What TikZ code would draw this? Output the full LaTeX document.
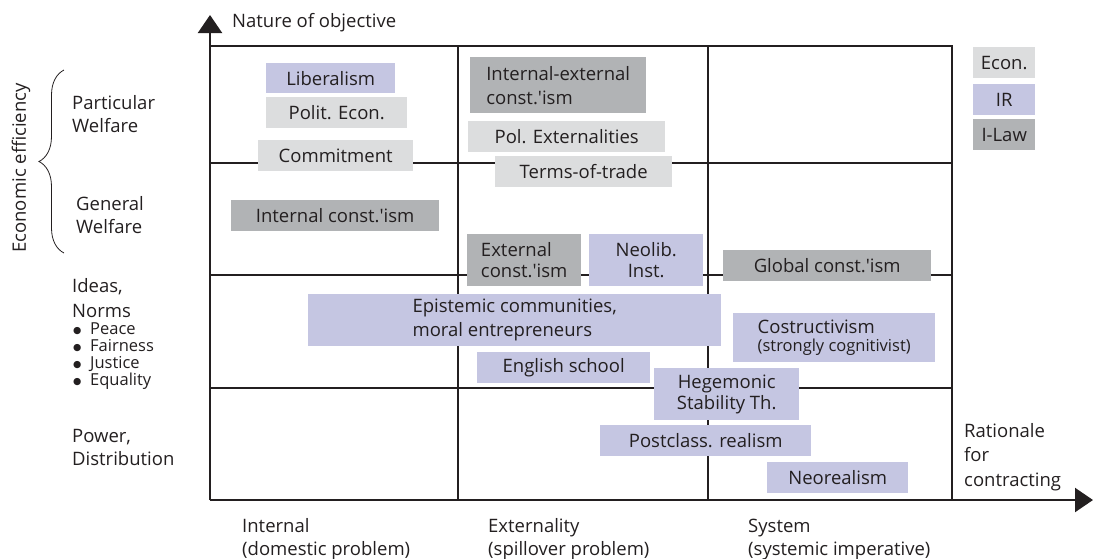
\documentclass[tikz,border=0pt]{standalone}
\usepackage{fontspec}
\setmainfont{Open Sans}
\newfontfamily\djv{DejaVu Sans}
\usetikzlibrary{arrows.meta,decorations.pathreplacing}
\definecolor{econ}{HTML}{DCDDDE}
\definecolor{ir}{HTML}{C5C6E2}
\definecolor{ilaw}{HTML}{B1B3B5}
\definecolor{txt}{HTML}{231F20}
\definecolor{ln}{HTML}{231F20}
\newcommand{\myap}{\textquotesingle}
\newcommand{\mybul}{\makebox[18pt][l]{\hspace{1pt}\raisebox{1pt}{\djv\fontsize{9.5}{9.5}\selectfont ●}}}
\tikzset{
  lbl/.style={inner sep=0pt, anchor=base west, align=left, text=txt},
  box/.style={inner sep=0pt, anchor=north west, text=txt, align=center},
  boxl/.style={box, align=left},
  econbox/.style={box, fill=econ},
  irbox/.style={box, fill=ir},
  ilawbox/.style={box, fill=ilaw},
  grid/.style={line width=1.3pt, draw=ln},
  frame/.style={line width=2.2pt, draw=ln},
  axis/.style={line width=2.2pt, draw=ln, -{Triangle[length=18pt,width=24pt]}},
}
\begin{document}
\begin{tikzpicture}[x=1pt,y=-1pt, font=\fontsize{18.5}{23}\selectfont]
\useasboundingbox (0,0) rectangle (1093,558);
% grid
\draw[grid] (210,163) -- (952,163);
\draw[grid] (210,275) -- (952,275);
\draw[grid] (210,388) -- (952,388);
\draw[grid] (458,46) -- (458,500);
\draw[grid] (708,46) -- (708,500);
\draw[frame] (210,46) -- (952,46) -- (952,500);
\coordinate (origin) at (210,500);
\coordinate (ytip) at (210,15);
\coordinate (xtip) at (1093,500);
\draw[axis] (origin) -- (ytip);
\draw[axis] (origin) -- (xtip);
% axis labels
\node[lbl] (yname) at (232,27) {Nature of objective};
\node[lbl, font=\fontsize{18.5}{24.5}\selectfont] (xname) at (964,486) {Rationale\\for\\contracting};
\node[lbl] (c1) at (242,555) {Internal\\(domestic problem)};
\node[lbl] (c2) at (488,555) {Externality\\(spillover problem)};
\node[lbl] (c3) at (748,555) {System\\(systemic imperative)};
% row labels
\node[lbl] (r1) at (72,132) {Particular\\Welfare};
\node[lbl] (r2) at (76,233) {General\\Welfare};
\node[lbl, font=\fontsize{18.5}{25}\selectfont] (r3) at (72,317) {Ideas,\\Norms};
\node[lbl, font=\fontsize{16.5}{16.7}\selectfont] (r3b) at (72,385) {\mybul Peace\\\mybul Fairness\\\mybul Justice\\\mybul Equality};
\node[lbl] (r4) at (72,465) {Power,\\Distribution};
\draw[line width=0.8pt, draw=ln, decorate, decoration={brace, amplitude=25pt}] (64,253) -- (64,70);
\node[inner sep=0pt, rotate=90, text=txt] (eff) at (21,168) {Economic efficiency};
% boxes
\node[irbox, minimum width=129, minimum height=30] (lib) at (266,63) {Liberalism};
\node[econbox, minimum width=141, minimum height=31] (pe) at (266,97) {Polit. Econ.};
\node[econbox, minimum width=155, minimum height=31] (com) at (258,140) {Commitment};
\node[ilawbox, minimum width=208, minimum height=31] (ici) at (231,200) {Internal const.\myap ism};
\node[ilawbox, boxl, minimum width=176, minimum height=56, font=\fontsize{18.5}{24}\selectfont] (iec) at (470,57) {Internal-external\\const.\myap ism};
\node[econbox, minimum width=197, minimum height=31] (pex) at (468,121) {Pol. Externalities};
\node[econbox, minimum width=177, minimum height=31] (tot) at (495,156) {Terms-of-trade};
\node[ilawbox, boxl, minimum width=114, minimum height=52, font=\fontsize{18.5}{21}\selectfont] (ec) at (467,234) {External\\const.\myap ism};
\node[irbox, minimum width=114, minimum height=52, font=\fontsize{18.5}{21}\selectfont] (nli) at (589,234) {Neolib.\\Inst.};
\node[ilawbox, minimum width=208, minimum height=31] (gc) at (723,250) {Global const.\myap ism};
\node[irbox, boxl, minimum width=413, minimum height=52, font=\fontsize{18.5}{24}\selectfont] (epi) at (308,294) {Epistemic communities,\\moral entrepreneurs};
\node[irbox, boxl, minimum width=202, minimum height=49, font=\fontsize{18.5}{18}\selectfont] (cos) at (733,313) {Costructivism\\{\fontsize{16.5}{18}\selectfont(strongly cognitivist)}};
\node[irbox, minimum width=173, minimum height=31] (eng) at (477,352) {English school};
\node[irbox, minimum width=145, minimum height=52, font=\fontsize{18.5}{21}\selectfont] (heg) at (654,368) {Hegemonic\\Stability Th.};
\node[irbox, minimum width=211, minimum height=31] (pcr) at (600,425) {Postclass. realism};
\node[irbox, minimum width=141, minimum height=31] (neo) at (767,462) {Neorealism};
% legend
\node[econbox, minimum width=62, minimum height=31] (lecon) at (973,47) {Econ.};
\node[irbox, minimum width=62, minimum height=31] (lir) at (973,84) {IR};
\node[ilawbox, minimum width=62, minimum height=31] (lilaw) at (973,119) {I-Law};
\end{tikzpicture}
\end{document}
